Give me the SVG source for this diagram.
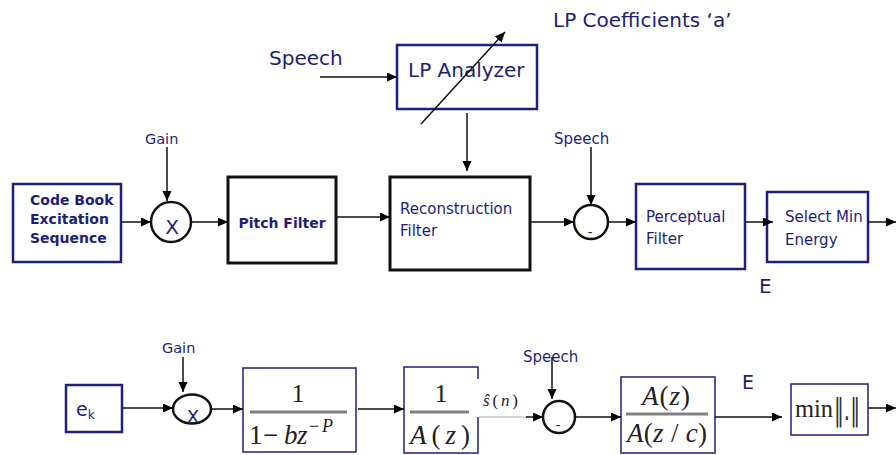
<svg xmlns="http://www.w3.org/2000/svg" width="896" height="455" viewBox="0 0 896 455">
  <defs>
    <marker id="arrow" markerUnits="userSpaceOnUse" markerWidth="11" markerHeight="10" refX="10" refY="4.5" orient="auto">
      <path d="M0,0 L10,4.5 L0,9 z" fill="#000"/>
    </marker>
    <style>
      .navybox { fill: #fff; stroke: #1f1f80; stroke-width: 2.5; }
      .thinbox { fill: #fff; stroke: #1f1f80; stroke-width: 1.5; }
      .blackbox { fill: #fff; stroke: #111; stroke-width: 3; }
      .junction { fill: #fff; stroke: #111; stroke-width: 2.5; }
      .wire { fill: none; stroke: #111; stroke-width: 1.5; marker-end: url(#arrow); }
      .lbl { font-family: "DejaVu Sans", Verdana, sans-serif; fill: #1e1e78; }
      .bold { font-weight: bold; }
      .math { font-family: "Liberation Serif", "Times New Roman", serif; fill: #222; font-style: italic; }
      .mathup { font-family: "Liberation Serif", "Times New Roman", serif; fill: #222; }
      .norm { font-family: "DejaVu Sans", sans-serif; fill: #333; }
      .bar { stroke: #808080; stroke-width: 3; }
    </style>
  </defs>

  <rect width="896" height="455" fill="#fff"/>

  <!-- ===== Upper chain: block diagram ===== -->
  <text class="lbl" x="553" y="27" font-size="20">LP Coefficients ‘a’</text>
  <text class="lbl" x="269" y="65" font-size="20">Speech</text>

  <g id="lp-analyzer">
    <rect class="navybox" x="397" y="45" width="140" height="64"/>
    <text class="lbl" x="408" y="77" font-size="20">LP Analyzer</text>
  </g>

  <g id="codebook">
    <rect class="navybox" x="13" y="184" width="108" height="78"/>
    <text class="lbl bold" x="30" y="205" font-size="14">Code Book</text>
    <text class="lbl bold" x="30" y="224" font-size="14">Excitation</text>
    <text class="lbl bold" x="30" y="243" font-size="14">Sequence</text>
  </g>

  <g id="gain-mult">
    <text class="lbl" x="145" y="144" font-size="14.5">Gain</text>
    <circle class="junction" cx="171" cy="222" r="20"/>
    <text class="lbl" x="172" y="234" font-size="20" text-anchor="middle">X</text>
  </g>

  <g id="pitch-filter">
    <rect class="blackbox" x="228" y="177" width="108" height="86"/>
    <text class="lbl bold" x="282" y="228" font-size="14" text-anchor="middle">Pitch Filter</text>
  </g>

  <g id="reconstruction">
    <rect class="blackbox" x="390" y="177" width="140" height="93"/>
    <text class="lbl" x="400" y="214" font-size="15">Reconstruction</text>
    <text class="lbl" x="400" y="236" font-size="15">Filter</text>
  </g>

  <g id="subtract">
    <text class="lbl" x="554" y="144" font-size="15">Speech</text>
    <circle class="junction" cx="591" cy="222" r="17"/>
    <text class="lbl" x="590" y="237" font-size="14" text-anchor="middle">-</text>
  </g>

  <g id="perceptual">
    <rect class="navybox" x="636" y="184" width="109" height="85"/>
    <text class="lbl" x="646" y="222" font-size="15">Perceptual</text>
    <text class="lbl" x="646" y="244" font-size="15">Filter</text>
  </g>

  <g id="select-min">
    <rect class="navybox" x="767" y="192" width="101" height="70"/>
    <text class="lbl" x="785" y="222" font-size="15">Select Min</text>
    <text class="lbl" x="785" y="245" font-size="15">Energy</text>
  </g>

  <text class="lbl" x="759" y="293" font-size="20">E</text>

  <!-- ===== Lower chain: transfer functions ===== -->
  <g id="ek">
    <rect class="navybox" x="66" y="385" width="56" height="47"/>
    <text class="lbl" x="76" y="416" font-size="19">e<tspan font-size="12" dy="3">k</tspan></text>
  </g>

  <g id="gain-mult-2">
    <text class="lbl" x="162" y="353" font-size="14.5">Gain</text>
    <ellipse class="junction" cx="192" cy="409" rx="19" ry="14.5"/>
    <text class="lbl" x="193" y="423" font-size="18" text-anchor="middle">X</text>
  </g>

  <g id="long-term">
    <rect class="thinbox" x="243" y="368" width="113" height="84"/>
    <text class="mathup" x="298" y="402" font-size="26" text-anchor="middle">1</text>
    <line class="bar" x1="250" y1="412" x2="347" y2="412"/>
    <text class="mathup" y="444" font-size="27"><tspan x="249">1</tspan><tspan x="263">−</tspan><tspan class="math" x="284">b</tspan><tspan class="math" x="297">z</tspan><tspan x="309" y="432" font-size="18">−</tspan><tspan class="math" x="322" y="432" font-size="18">P</tspan></text>
  </g>

  <g id="synthesis">
    <path fill="#fff" stroke="none" d="M404,367 H478 V453 H404 Z"/>
    <path fill="none" stroke="#1f1f80" stroke-width="1.5" d="M478,379 V367 H404 V453 H478 V417"/>
    <text class="mathup" x="441" y="402" font-size="26" text-anchor="middle">1</text>
    <line class="bar" x1="410" y1="412" x2="469" y2="412"/>
    <text class="math" x="410" y="444" font-size="27" textLength="60" lengthAdjust="spacing">A<tspan font-style="normal">(</tspan>z<tspan font-style="normal">)</tspan></text>
  </g>

  <text class="math" x="483" y="406" font-size="17" fill="#333" textLength="35" lengthAdjust="spacing">ŝ<tspan font-style="normal">(</tspan>n<tspan font-style="normal">)</tspan></text>

  <g id="subtract-2">
    <text class="lbl" x="523" y="362" font-size="15">Speech</text>
    <circle class="junction" cx="559" cy="417" r="16"/>
    <text class="lbl" x="558" y="430" font-size="14" text-anchor="middle">-</text>
  </g>

  <g id="weighting">
    <rect class="thinbox" x="621" y="377" width="94" height="76"/>
    <text class="math" x="642" y="405" font-size="27" textLength="48" lengthAdjust="spacing">A<tspan font-style="normal">(</tspan>z<tspan font-style="normal">)</tspan></text>
    <line class="bar" x1="626" y1="414" x2="708" y2="414"/>
    <text class="math" x="627" y="442" font-size="27" textLength="80" lengthAdjust="spacing">A<tspan font-style="normal">(</tspan>z <tspan font-style="normal">/</tspan> c<tspan font-style="normal">)</tspan></text>
  </g>

  <text class="lbl" x="742" y="389" font-size="19">E</text>

  <g id="min-norm">
    <rect class="thinbox" x="791" y="384" width="77" height="51"/>
    <text class="mathup" x="795" y="417" font-size="25" textLength="38" lengthAdjust="spacingAndGlyphs">min</text>
    <text class="norm" x="834" y="420" font-size="30" textLength="26" lengthAdjust="spacingAndGlyphs">‖.‖</text>
  </g>

  <!-- ===== Connectors ===== -->
  <g id="connectors">
    <!-- upper chain -->
    <line class="wire" x1="320" y1="77" x2="397" y2="77"/>
    <line class="wire" x1="421" y1="124" x2="505" y2="32"/>
    <line class="wire" x1="467" y1="113" x2="467" y2="171"/>
    <line class="wire" x1="167" y1="147" x2="167" y2="201"/>
    <line class="wire" x1="122" y1="222" x2="151" y2="222"/>
    <line class="wire" x1="191" y1="222" x2="228" y2="222"/>
    <line class="wire" x1="337" y1="217" x2="390" y2="217"/>
    <line class="wire" x1="530" y1="222" x2="574" y2="222"/>
    <line class="wire" x1="591" y1="147" x2="591" y2="205"/>
    <line class="wire" x1="608" y1="222" x2="636" y2="222"/>
    <line class="wire" x1="745" y1="222" x2="773" y2="222"/>
    <line class="wire" x1="868" y1="222" x2="896" y2="222"/>
    <!-- lower chain -->
    <line class="wire" x1="122" y1="408" x2="173" y2="408"/>
    <line class="wire" x1="183" y1="357" x2="183" y2="392"/>
    <line class="wire" x1="211" y1="409" x2="243" y2="409"/>
    <line class="wire" x1="358" y1="409" x2="404" y2="409"/>
    <line x1="479" y1="417" x2="528" y2="417" stroke="#c8c8c8" stroke-width="1.5"/>
    <line class="wire" x1="526" y1="417" x2="543" y2="417"/>
    <line class="wire" x1="552" y1="357" x2="552" y2="399"/>
    <line class="wire" x1="575" y1="417" x2="621" y2="417"/>
    <line class="wire" x1="715" y1="417" x2="782" y2="417"/>
    <line class="wire" x1="868" y1="408" x2="896" y2="408"/>
  </g>
</svg>
